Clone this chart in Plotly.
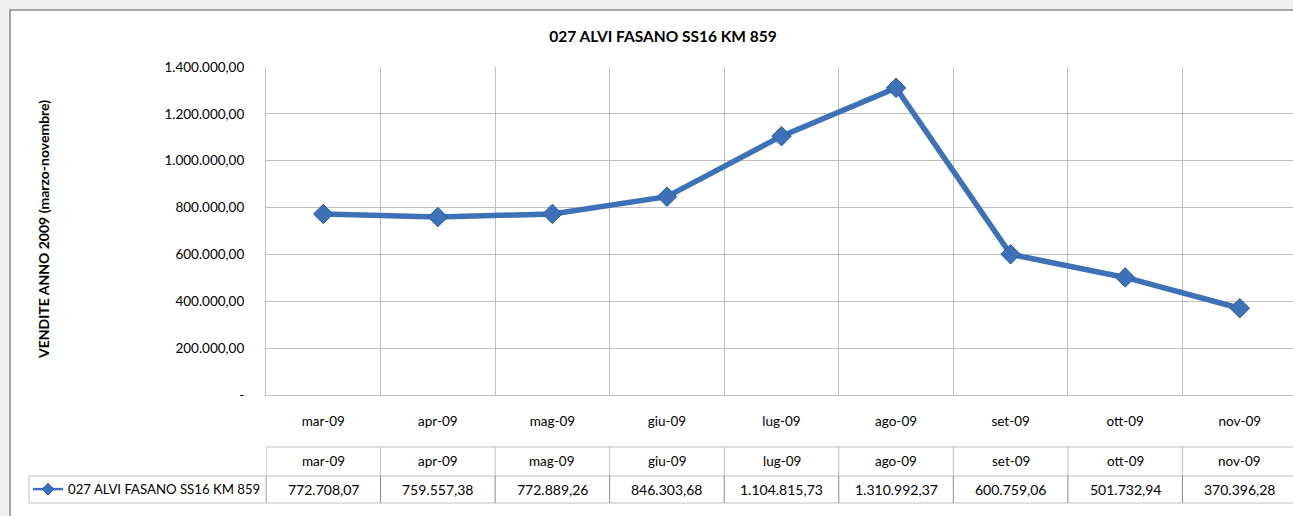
import plotly.graph_objects as go

# ---- data ----
months = ["mar-09", "apr-09", "mag-09", "giu-09", "lug-09", "ago-09", "set-09", "ott-09", "nov-09"]
values = [772708.07, 759557.38, 772889.26, 846303.68, 1104815.73, 1310992.37, 600759.06, 501732.94, 370396.28]
value_labels = ["772.708,07", "759.557,38", "772.889,26", "846.303,68", "1.104.815,73",
                "1.310.992,37", "600.759,06", "501.732,94", "370.396,28"]
y_tickvals = [0, 200000, 400000, 600000, 800000, 1000000, 1200000, 1400000]
y_ticktext = ["-", "200.000,00", "400.000,00", "600.000,00", "800.000,00",
              "1.000.000,00", "1.200.000,00", "1.400.000,00"]
series_name = "027 ALVI FASANO SS16 KM 859"
title_text = "027 ALVI FASANO SS16 KM 859"
y_title = "VENDITE ANNO 2009 (marzo-novembre)"

# ---- layout geometry ----
W, H = 1293, 516
L, R, T, B = 266, 0, 67, 121
PW = W - L - R
PH = H - T - B
FONT = "Lato, Carlito, Calibri, sans-serif"
LINE_COLOR = "#3d72b9"
GRID = "#bfbfbf"


def xp(px):
    return (px - L) / PW


def yp(py):
    return (H - B - py) / PH


fig = go.Figure()
fig.add_trace(go.Scatter(
    x=months, y=values, mode="lines+markers", name=series_name, showlegend=False,
    line=dict(color=LINE_COLOR, width=5.5),
    marker=dict(symbol="diamond", size=15, color=LINE_COLOR,
                line=dict(color="#2b5a99", width=1)),
    hoverinfo="skip",
))
# legend key (smaller symbol, as in the data-table legend)
fig.add_trace(go.Scatter(
    x=[None], y=[None], mode="lines+markers", name=series_name, showlegend=True,
    line=dict(color=LINE_COLOR, width=2.5),
    marker=dict(symbol="diamond", size=9, color=LINE_COLOR,
                line=dict(color="#2b5a99", width=1)),
))

n = len(months)
shapes = []
annotations = []

# chart area background with border
shapes.append(dict(type="rect", xref="paper", yref="paper",
                   x0=xp(10), x1=xp(1320), y0=yp(10), y1=yp(540),
                   fillcolor="white", line=dict(color="#8a8a8a", width=1.5), layer="below"))

# data table rows
row1_top, row1_bot, row2_bot = 447, 476, 503
for ypx in [row1_top, row1_bot, row2_bot]:
    shapes.append(dict(type="line", xref="x", yref="paper",
                       x0=-0.5, x1=n - 0.5, y0=yp(ypx), y1=yp(ypx),
                       line=dict(color=GRID, width=1)))
for i in range(n + 1):
    shapes.append(dict(type="line", xref="x", yref="paper",
                       x0=i - 0.5, x1=i - 0.5, y0=yp(row1_top), y1=yp(row1_bot),
                       line=dict(color=GRID, width=1)))
    shapes.append(dict(type="line", xref="x", yref="paper",
                       x0=i - 0.5, x1=i - 0.5, y0=yp(row1_bot), y1=yp(row2_bot),
                       line=dict(color="#8c8c8c", width=1)))
# legend cell
shapes.append(dict(type="rect", xref="paper", yref="paper",
                   x0=xp(29), x1=xp(266), y0=yp(row1_bot), y1=yp(row2_bot),
                   line=dict(color=GRID, width=1)))

for i, (m, v) in enumerate(zip(months, value_labels)):
    annotations.append(dict(x=i, y=yp((row1_top + row1_bot) / 2), xref="x", yref="paper",
                            text=m, showarrow=False, font=dict(size=13.5, color="#000"),
                            xanchor="center", yanchor="middle"))
    annotations.append(dict(x=i, y=yp((row1_bot + row2_bot) / 2), xref="x", yref="paper",
                            text=v, showarrow=False, font=dict(size=14, color="#000"),
                            xanchor="center", yanchor="middle"))

# y axis title
annotations.append(dict(x=xp(43), y=yp(230), xref="paper", yref="paper",
                        text="<b>" + y_title + "</b>", textangle=-90, showarrow=False,
                        font=dict(size=14, color="#000"), xanchor="center", yanchor="middle"))

fig.update_layout(
    width=W, height=H,
    margin=dict(l=L, r=R, t=T, b=B, pad=0),
    paper_bgcolor="#f0f0f0", plot_bgcolor="white",
    font=dict(family=FONT, size=13, color="#000"),
    title=dict(text="<b>" + title_text + "</b>", xref="container", yref="container",
               x=663 / W, y=1 - 37 / H, xanchor="center", yanchor="middle",
               font=dict(size=15.5, color="#000")),
    showlegend=True,
    legend=dict(x=xp(28), y=yp((row1_bot + row2_bot) / 2), xanchor="left", yanchor="middle",
                bgcolor="rgba(0,0,0,0)", font=dict(size=13.2), itemwidth=30,
                tracegroupgap=0, borderwidth=0),
    shapes=shapes, annotations=annotations,
    xaxis=dict(type="category", range=[-0.5, n - 0.5 - 0.035], tickson="boundaries",
               showgrid=True, gridcolor=GRID, gridwidth=1,
               showline=True, linecolor=GRID, ticks="", ticklen=0,
               tickfont=dict(size=13.5), ticklabelstandoff=14),
    yaxis=dict(range=[0, 1400000], tickvals=y_tickvals, ticktext=y_ticktext,
               showgrid=True, gridcolor=GRID, gridwidth=1, zeroline=False,
               showline=True, linecolor=GRID, ticks="", ticklabelstandoff=18,
               tickfont=dict(size=13.5)),
)

fig.write_html("out.html", config={"displayModeBar": False},
               post_script="document.body.style.margin='0';")
